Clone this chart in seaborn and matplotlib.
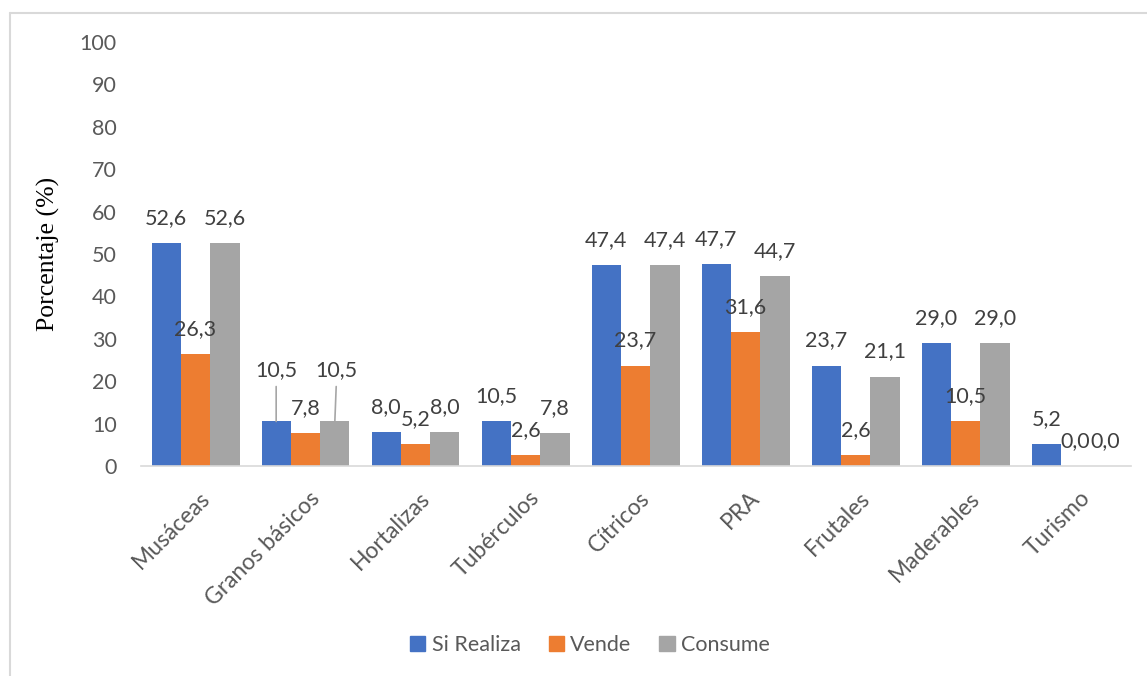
import numpy as np
import pandas as pd
import matplotlib
matplotlib.use("Agg")
import matplotlib.pyplot as plt
import matplotlib.transforms as mtransforms
from matplotlib.lines import Line2D
import seaborn as sns

categorias = ["Musáceas", "Granos básicos", "Hortalizas", "Tubérculos", "Cítricos",
              "PRA", "Frutales", "Maderables", "Turismo"]
series = ["Si Realiza", "Vende", "Consume"]
si_realiza = [52.6, 10.5, 8.0, 10.5, 47.4, 47.7, 23.7, 29.0, 5.2]
vende = [26.3, 7.8, 5.2, 2.6, 23.7, 31.6, 2.6, 10.5, 0.0]
consume = [52.6, 10.5, 8.0, 7.8, 47.4, 44.7, 21.1, 29.0, 0.0]
y_ticks = [0, 10, 20, 30, 40, 50, 60, 70, 80, 90, 100]
colores = ["#4472C4", "#ED7D31", "#A5A5A5"]

valores = [si_realiza, vende, consume]
df = pd.DataFrame({
    "categoria": np.tile(categorias, len(series)),
    "serie": np.repeat(series, len(categorias)),
    "valor": np.concatenate(valores),
})

sns.set_theme(style="white")
plt.rcParams["font.family"] = ["Lato", "DejaVu Sans"]

W, H = 1147, 676
fig = plt.figure(figsize=(W / 100, H / 100), dpi=100)
ax = fig.add_axes([140.5 / W, 1 - 466 / H, 990 / W, 424 / H])

sns.barplot(data=df, x="categoria", y="valor", hue="serie", order=categorias,
            hue_order=series, palette=colores, saturation=1, width=0.8,
            linewidth=0, ax=ax, legend=True)

ax.set_ylim(0, 100)
ax.set_yticks(y_ticks)
ax.set_xlim(-0.5, len(categorias) - 0.5)
for s in ["top", "right", "left"]:
    ax.spines[s].set_visible(False)
ax.spines["bottom"].set_color("#D9D9D9")
ax.spines["bottom"].set_linewidth(1.2)
ax.tick_params(axis="y", length=0, pad=17, labelsize=15.5, labelcolor="#595959")
ax.tick_params(axis="x", length=0, labelsize=16.5, labelcolor="#595959")
ax.set_xlabel("")
ax.set_ylabel("Porcentaje (%)", family="Liberation Serif", fontsize=18.5,
              color="black", labelpad=14)

ax.set_xticks(range(len(categorias)))
ax.set_xticklabels(categorias, rotation=45, ha="right", va="center",
                   rotation_mode="anchor")
off = mtransforms.ScaledTranslation(11 / 100, -24 / 100, fig.dpi_scale_trans)
for lab in ax.get_xticklabels():
    lab.set_transform(lab.get_transform() + off)

# data labels
for ci, cont in enumerate(ax.containers):
    for bi, bar in enumerate(cont):
        v = valores[ci][bi]
        x = bar.get_x() + bar.get_width() / 2
        y = bar.get_height()
        txt = f"{v:.1f}".replace(".", ",")
        if bi == 1 and ci in (0, 2):
            dx = 0 if ci == 0 else 2
            ax.annotate(txt, xy=(x, y), xytext=(dx, 51), textcoords="offset pixels",
                        ha="center", va="center", fontsize=15.5, color="#404040",
                        arrowprops=dict(arrowstyle="-", color="#A6A6A6", lw=1.2,
                                        shrinkA=2, shrinkB=0))
        else:
            ax.annotate(txt, xy=(x, y), xytext=(0, 25), textcoords="offset pixels",
                        ha="center", va="center", fontsize=15.5, color="#404040")

ax.get_legend().remove()
handles = [plt.Rectangle((0, 0), 1, 1, color=c) for c in colores]
fig.legend(handles, series, loc="center", bbox_to_anchor=(590 / W, 1 - 645 / H),
           ncol=3, frameon=False, fontsize=15.5, handlelength=0.7, handleheight=0.7,
           handletextpad=0.3, columnspacing=1.3, labelcolor="#595959")

# chart frame (left and top edges)
fig.add_artist(Line2D([9.5 / W, 9.5 / W], [0, 1 - 12.5 / H], transform=fig.transFigure,
                      color="#D9D9D9", lw=1.5))
fig.add_artist(Line2D([9.5 / W, 1], [1 - 12.5 / H, 1 - 12.5 / H], transform=fig.transFigure,
                      color="#D9D9D9", lw=1.5))

fig.savefig("out.png", dpi=100, facecolor="white")
